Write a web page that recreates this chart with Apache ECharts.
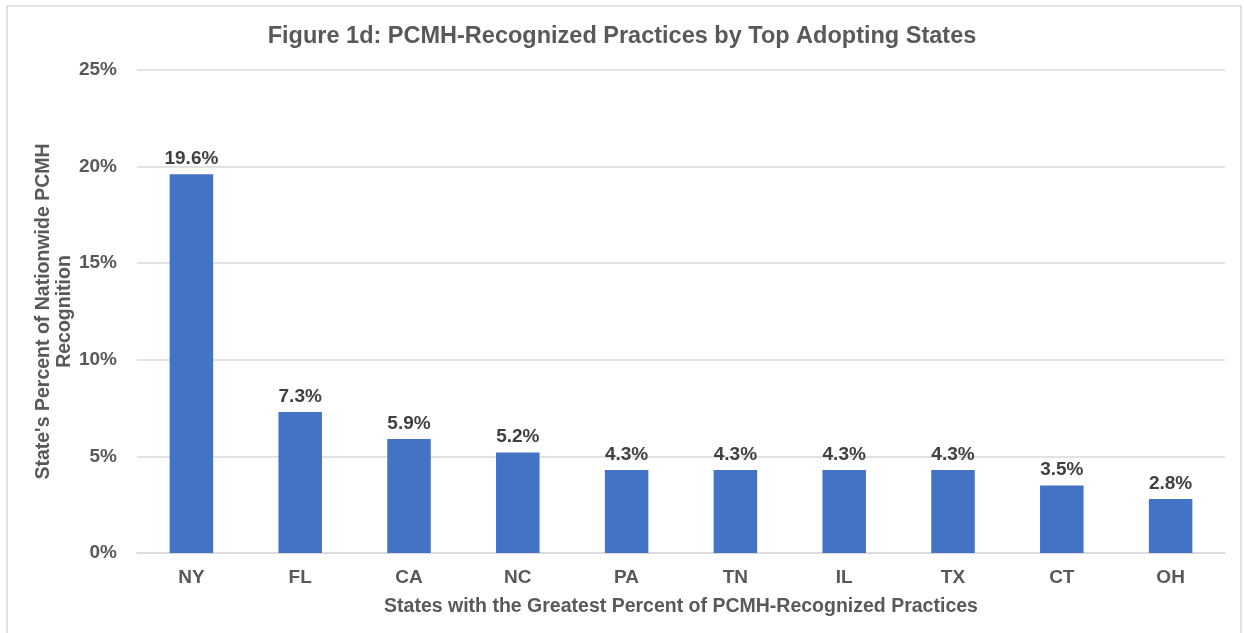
<!DOCTYPE html>
<html><head><meta charset="utf-8">
<script src="https://cdn.jsdelivr.net/npm/echarts@6/dist/echarts.min.js"></script>
<style>html,body{margin:0;padding:0;background:#fff}#c{width:1244px;height:633px}</style>
</head><body><div id="c"></div>
<script>
const categories = ["NY","FL","CA","NC","PA","TN","IL","TX","CT","OH"];
const values = [19.6,7.3,5.9,5.2,4.3,4.3,4.3,4.3,3.5,2.8];
const yTicks = [0,5,10,15,20,25];
const titleText = "Figure 1d: PCMH-Recognized Practices by Top Adopting States";
const xName = "States with the Greatest Percent of PCMH-Recognized Practices";
const yName = "State's Percent of Nationwide PCMH\nRecognition";

const chart = echarts.init(document.getElementById('c'));
const F = "Liberation Sans, Arial, sans-serif";
chart.setOption({
  animation: false,
  graphic: [{type:'rect', shape:{x:7,y:6,width:1234,height:640}, style:{fill:'none', stroke:'#d9d9d9', lineWidth:1.5}, silent:true}],
  title: {text: titleText, left: 'center', top: 20, textStyle:{fontFamily:F, fontSize:23.5, fontWeight:'bold', color:'#595959'}},
  grid: {left:137, right:19, top:70, bottom:80, containLabel:false},
  xAxis: {type:'category', data: categories,
    axisLine:{lineStyle:{color:'#d9d9d9', width:1.5}}, axisTick:{show:false},
    axisLabel:{fontFamily:F, fontSize:19, fontWeight:'bold', color:'#595959', margin:15},
    name: xName, nameLocation:'middle', nameGap:44,
    nameTextStyle:{fontFamily:F, fontSize:19.5, fontWeight:'bold', color:'#595959'}},
  yAxis: {type:'value', min:yTicks[0], max:yTicks[yTicks.length-1], interval:5,
    axisLine:{show:false}, axisTick:{show:false},
    splitLine:{lineStyle:{color:'#d9d9d9', width:1.5}},
    axisLabel:{fontFamily:F, fontSize:19, fontWeight:'bold', color:'#595959', margin:20, formatter: v => v + '%'},
    name: yName, nameLocation:'middle', nameGap:62, nameRotate:90, nameMoveOverlap:false,
    nameTextStyle:{fontFamily:F, fontSize:19.5, fontWeight:'bold', color:'#595959', lineHeight:21}},
  series: [{type:'bar', data: values, barWidth:'40%', itemStyle:{color:'#4472C4'},
    label:{show:true, position:'top', distance:6, formatter: p => p.value.toFixed(1) + '%',
      fontFamily:F, fontSize:19, fontWeight:'bold', color:'#404040'}}]
});
</script></body></html>
